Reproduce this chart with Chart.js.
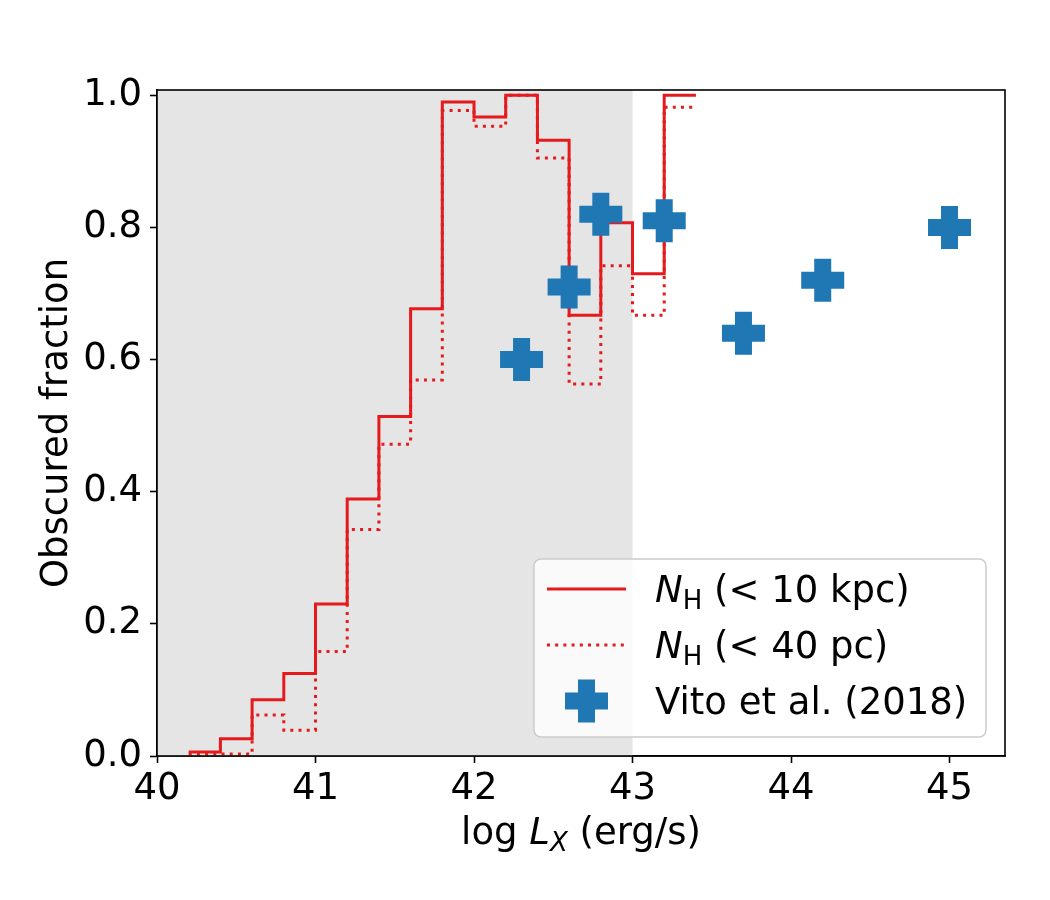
<!DOCTYPE html>
<html>
<head>
<meta charset="utf-8">
<script src="https://cdn.jsdelivr.net/npm/chart.js@4/dist/chart.umd.min.js"></script>
<style>
  html, body { margin: 0; padding: 0; background: #ffffff; }
  #wrap { width: 1050px; height: 900px; position: relative; }
</style>
</head>
<body>
<div id="wrap"><canvas id="c" width="1050" height="900"></canvas></div>
<script>
// ---- data ----
const xTicks = [40, 41, 42, 43, 44, 45];
const yTicks = [0.0, 0.2, 0.4, 0.6, 0.8, 1.0];
const binEdges = [40.2, 40.4, 40.6, 40.8, 41.0, 41.2, 41.4, 41.6, 41.8, 42.0, 42.2, 42.4, 42.6, 42.8, 43.0, 43.2, 43.4];
const fracKpc = [0.006, 0.026, 0.085, 0.125, 0.230, 0.389, 0.514, 0.677, 0.990, 0.967, 1.000, 0.932, 0.667, 0.807, 0.730, 1.000];
const fracPc  = [0.003, 0.003, 0.062, 0.039, 0.158, 0.343, 0.472, 0.569, 0.977, 0.953, 1.000, 0.905, 0.563, 0.742, 0.667, 0.982];
const vitoLx   = [42.3, 42.6, 42.8, 43.2, 43.7, 44.2, 45.0];
const vitoFrac = [0.60, 0.71, 0.82, 0.81, 0.64, 0.72, 0.80];
const shadeRange = [40, 43];
const xRange = [40, 45.35];
const yRange = [0, 1.008];

const RED = '#e41a1c';
const BLUE = '#1f77b4';
const FONT = '"DejaVu Sans", "Liberation Sans", sans-serif';
const FS = 37, SUB = 26;

function stepPoints(edges, vals) {
  const pts = vals.map((v, i) => ({ x: edges[i], y: v }));
  pts.push({ x: edges[edges.length - 1], y: vals[vals.length - 1] });
  return pts;
}

const shadePlugin = {
  id: 'shade',
  beforeDatasetsDraw(chart) {
    const { ctx, chartArea, scales } = chart;
    const x0 = scales.x.getPixelForValue(shadeRange[0]);
    const x1 = scales.x.getPixelForValue(shadeRange[1]);
    ctx.save();
    ctx.fillStyle = '#e5e5e5';
    ctx.fillRect(x0, chartArea.top, x1 - x0, chartArea.bottom - chartArea.top);
    ctx.restore();
  },
  afterDatasetsDraw(chart) {
    const { ctx, chartArea } = chart;
    ctx.save();
    ctx.strokeStyle = '#000';
    ctx.lineWidth = 1.6;
    ctx.strokeRect(chartArea.left, chartArea.top, chartArea.right - chartArea.left, chartArea.bottom - chartArea.top);
    ctx.restore();
  },
  afterDraw(chart) {
    const { ctx, chartArea } = chart;
    ctx.save();
    ctx.fillStyle = '#000';
    // y title
    ctx.font = FS + 'px ' + FONT;
    ctx.textAlign = 'center';
    ctx.textBaseline = 'alphabetic';
    ctx.save();
    ctx.translate(67, (chartArea.top + chartArea.bottom) / 2);
    ctx.rotate(-Math.PI / 2);
    ctx.fillText('Obscured fraction', 0, 0);
    ctx.restore();

    // x title: log L_X (erg/s)
    const segs = [
      { t: 'log ', f: FS + 'px ' + FONT, dy: 0 },
      { t: 'L', f: 'italic ' + FS + 'px ' + FONT, dy: 0 },
      { t: 'X', f: 'italic ' + SUB + 'px ' + FONT, dy: 6.5 },
      { t: ' (erg/s)', f: FS + 'px ' + FONT, dy: 0 }
    ];
    let total = 0;
    segs.forEach(s => { ctx.font = s.f; s.w = ctx.measureText(s.t).width; total += s.w; });
    let cx = (chartArea.left + chartArea.right) / 2 - total / 2;
    ctx.textAlign = 'left';
    segs.forEach(s => { ctx.font = s.f; ctx.fillText(s.t, cx, 844 + s.dy); cx += s.w; });

    // legend
    const bx = chartArea.right - 19 - 452, by = chartArea.bottom - 19 - 178;
    ctx.beginPath();
    ctx.roundRect(bx, by, 452, 178, 7);
    ctx.fillStyle = 'rgba(255,255,255,0.8)';
    ctx.fill();
    ctx.strokeStyle = '#cccccc';
    ctx.lineWidth = 1.5;
    ctx.stroke();

    const lx0 = bx + 13, lx1 = bx + 92, tx = bx + 121;
    const rows = [by + 43, by + 99, by + 155];
    ctx.strokeStyle = RED;
    ctx.lineWidth = 3;
    ctx.beginPath(); ctx.moveTo(lx0, rows[0] - 13); ctx.lineTo(lx1, rows[0] - 13); ctx.stroke();
    ctx.setLineDash([3, 5.2]);
    ctx.beginPath(); ctx.moveTo(lx0, rows[1] - 13); ctx.lineTo(lx1, rows[1] - 13); ctx.stroke();
    ctx.setLineDash([]);
    ctx.strokeStyle = BLUE;
    ctx.lineWidth = 17;
    const mx = (lx0 + lx1) / 2, my = rows[2] - 13;
    ctx.beginPath();
    ctx.moveTo(mx - 21.5, my); ctx.lineTo(mx + 21.5, my);
    ctx.moveTo(mx, my - 21.5); ctx.lineTo(mx, my + 21.5);
    ctx.stroke();

    ctx.fillStyle = '#000';
    const lab = (rest, y) => {
      let x = tx;
      ctx.font = 'italic ' + FS + 'px ' + FONT;
      ctx.fillText('N', x, y); x += ctx.measureText('N').width;
      ctx.font = SUB + 'px ' + FONT;
      ctx.fillText('H', x, y + 6.5); x += ctx.measureText('H').width;
      ctx.font = FS + 'px ' + FONT;
      ctx.fillText(rest, x, y);
    };
    lab(' (< 10 kpc)', rows[0]);
    lab(' (< 40 pc)', rows[1]);
    ctx.font = FS + 'px ' + FONT;
    ctx.fillText('Vito et al. (2018)', tx, rows[2]);
    ctx.restore();
  }
};

const tickFont = { family: FONT, size: FS };

new Chart(document.getElementById('c'), {
  type: 'line',
  data: {
    datasets: [
      {
        type: 'scatter',
        label: 'Vito et al. (2018)',
        data: vitoLx.map((x, i) => ({ x: x, y: vitoFrac[i] })),
        pointStyle: 'cross',
        pointRadius: 21.5,
        pointHoverRadius: 21.5,
        pointBorderWidth: 17,
        pointHoverBorderWidth: 17,
        pointBorderColor: BLUE,
        pointBackgroundColor: BLUE,
        showLine: false,
        order: 0,
        clip: false
      },
      {
        label: 'NH (< 10 kpc)',
        data: stepPoints(binEdges, fracKpc),
        stepped: 'before',
        borderColor: RED,
        borderWidth: 3,
        pointRadius: 0,
        fill: false,
        order: 1
      },
      {
        label: 'NH (< 40 pc)',
        data: stepPoints(binEdges, fracPc),
        stepped: 'before',
        borderColor: RED,
        borderWidth: 3,
        borderDash: [3, 5.2],
        pointRadius: 0,
        fill: false,
        order: 2
      }
    ]
  },
  options: {
    responsive: false,
    animation: false,
    events: [],
    layout: { padding: { top: 90, right: 45, left: 0, bottom: 0 } },
    plugins: { legend: { display: false }, tooltip: { enabled: false } },
    scales: {
      x: {
        type: 'linear',
        min: xRange[0], max: xRange[1],
        afterBuildTicks: s => { s.ticks = xTicks.map(v => ({ value: v })); },
        afterFit: s => { s.height = 144; },
        ticks: { font: tickFont, color: '#000', padding: 4, maxRotation: 0, callback: v => String(v) },
        grid: { display: true, drawOnChartArea: false, drawTicks: true, tickLength: 7, tickColor: '#000', tickWidth: 1.6 },
        border: { display: true, color: '#000', width: 1.6 }
      },
      y: {
        type: 'linear',
        min: yRange[0], max: yRange[1],
        afterBuildTicks: s => { s.ticks = yTicks.map(v => ({ value: v })); },
        afterFit: s => { s.width = 157; },
        ticks: { font: tickFont, color: '#000', padding: 8, callback: v => v.toFixed(1) },
        grid: { display: true, drawOnChartArea: false, drawTicks: true, tickLength: 7, tickColor: '#000', tickWidth: 1.6 },
        border: { display: true, color: '#000', width: 1.6 }
      }
    }
  },
  plugins: [shadePlugin]
});
</script>
</body>
</html>
